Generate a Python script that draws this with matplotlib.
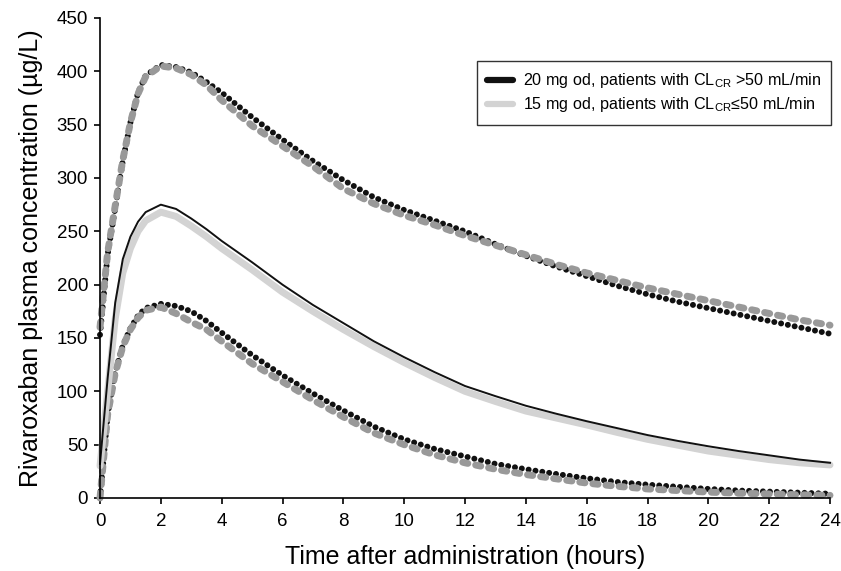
import matplotlib
matplotlib.use("Agg")
import matplotlib.pyplot as plt
from matplotlib.lines import Line2D

plt.rcParams["font.family"] = ["Liberation Sans", "DejaVu Sans"]
plt.rcParams["mathtext.fontset"] = "custom"
plt.rcParams["mathtext.rm"] = "Liberation Sans"

# time after administration (h)
hours = [0, 0.25, 0.5, 0.75, 1, 1.25, 1.5, 2, 2.5, 3, 3.5, 4, 5, 6, 7, 8,
         9, 10, 11, 12, 13, 14, 15, 16, 17, 18, 19, 20, 21, 22, 23, 24]

# 20 mg od, CLcr > 50 mL/min
p95_20 = [153, 228, 272, 316, 352, 380, 396, 406, 404, 399, 390, 380, 357, 336, 316, 298,
          282, 270, 260, 250, 238, 227, 217, 208, 199, 191, 184, 178, 172, 166, 160, 154]
med_20 = [32, 112, 183, 224, 245, 259, 268, 275, 271, 262, 252, 241, 221, 200, 181, 164,
          147, 132, 118, 105, 95.5, 86.5, 79, 72, 65.5, 59, 53.5, 48.5, 44, 40, 36, 33]
p05_20 = [0, 78, 118, 143, 159, 171, 178, 182, 180, 175, 166, 155, 134, 115, 98, 82,
          67, 55, 46, 39, 32, 27, 22.5, 18.5, 15, 12.5, 10.5, 8.5, 7, 6, 5, 4]

# 15 mg od, CLcr <= 50 mL/min
p95_15 = [160, 230, 274, 317, 352, 379, 395, 405, 403, 397, 387, 373, 349, 330, 311, 290,
          276, 265, 256, 246, 237, 228, 219, 211, 204, 197, 191, 185, 179, 173, 167, 162]
med_15 = [30, 100, 168, 211, 234, 250, 260, 268, 264, 255, 245, 234, 214, 193, 175, 158,
          142, 127, 113, 100, 90.5, 81.5, 75, 68.5, 61.5, 55, 49.5, 44, 40, 36, 33, 31]
p05_15 = [0, 78, 117, 142, 158, 169, 176, 179, 173, 165, 158, 147, 126, 109, 92, 76,
          61, 50, 40.5, 33, 27, 22, 18, 14, 11, 8.5, 7, 5.5, 4.5, 3.8, 3, 2.5]

labels = ["20 mg od, patients with CL$_{\\mathregular{CR}}$ >50 mL/min",
          "15 mg od, patients with CL$_{\\mathregular{CR}}$\u226450 mL/min"]

fig = plt.figure(figsize=(8.41, 5.71), dpi=100)
ax = fig.add_axes([100 / 841, 1 - 498 / 571, 730 / 841, 480 / 571])

dot_style = dict(color="#111111", lw=4.3, linestyle=(0, (0.01, 1.15)),
                 dash_capstyle="round", clip_on=False)
dash_style = dict(color="#999999", lw=5.0, linestyle=(0, (0.75, 1.15)),
                  dash_capstyle="round", clip_on=False)

# 95th and 5th percentiles
for p20, p15 in [(p95_20, p95_15), (p05_20, p05_15)]:
    ax.plot(hours, p20, **dot_style)
    ax.plot(hours, p15, **dash_style)

# medians
ax.plot(hours, med_15, color="#d3d3d3", lw=5, solid_capstyle="round",
        solid_joinstyle="round", clip_on=False)
ax.plot(hours, med_20, color="#111111", lw=1.4, solid_joinstyle="round", clip_on=False)

ax.set_xlim(0, 24)
ax.set_ylim(0, 450)
ax.set_xticks(range(0, 25, 2))
ax.set_yticks(range(0, 451, 50))
for side in ["top", "right"]:
    ax.spines[side].set_visible(False)
for side in ["left", "bottom"]:
    ax.spines[side].set_linewidth(1.2)
ax.tick_params(direction="out", length=4.5, width=1.2, labelsize=13.5, pad=4)
ax.tick_params(axis="x", pad=6)

ax.set_xlabel("Time after administration (hours)", fontsize=18, labelpad=11)
ax.set_ylabel("Rivaroxaban plasma concentration (\u00b5g/L)", fontsize=18, labelpad=10)

handles = [Line2D([], [], color="#111111", lw=4.5, solid_capstyle="round"),
           Line2D([], [], color="#d3d3d3", lw=4.5, solid_capstyle="round")]
leg = ax.legend(handles, labels, loc="upper right", bbox_to_anchor=(831 / 841, 1 - 61 / 571),
                bbox_transform=fig.transFigure, fontsize=11.6, frameon=True, fancybox=False,
                handlelength=1.6, handletextpad=0.6, labelspacing=0.3, borderpad=0.65,
                borderaxespad=0)
leg.get_frame().set_edgecolor("black")
leg.get_frame().set_linewidth(1.0)

fig.savefig("out.png", dpi=100)
